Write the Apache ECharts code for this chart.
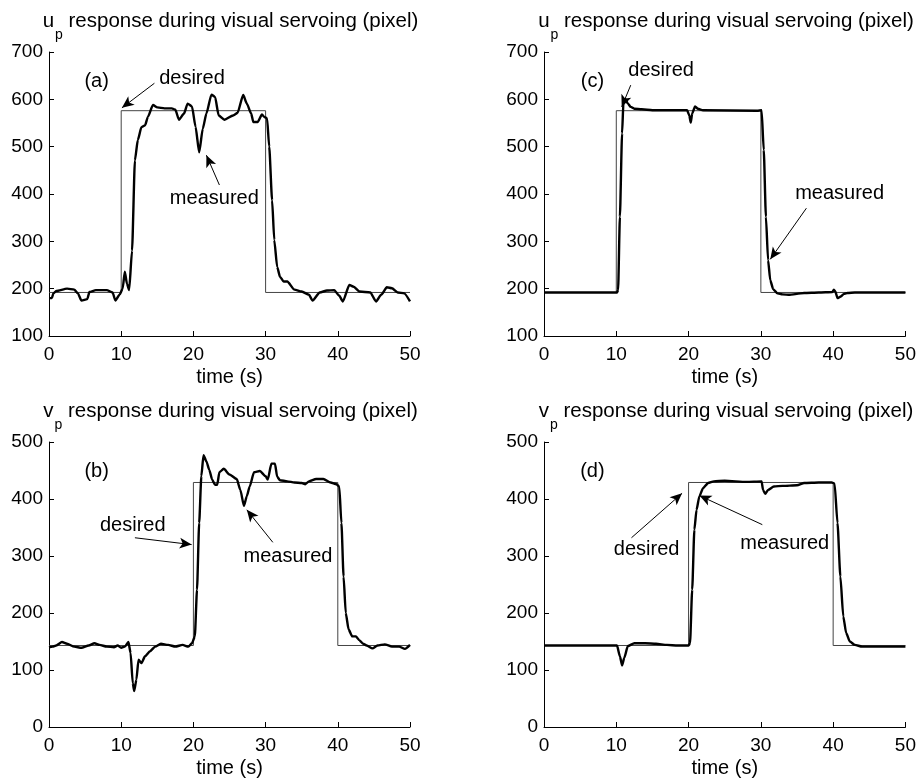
<!DOCTYPE html>
<html>
<head>
<meta charset="utf-8">
<script src="https://cdn.jsdelivr.net/npm/echarts@6/dist/echarts.min.js"></script>
<style>
  html, body { margin: 0; padding: 0; background: #fff; }
  #main { width: 919px; height: 779px; }
</style>
</head>
<body>
<div id="main"></div>
<script>
// (a) u_p, first controller
const tA = [0, 0.4, 0.6, 1, 2.5, 3.5, 4, 4.5, 5.3, 5.6, 6.5, 8, 8.8, 9.2, 9.8, 10.2, 10.5, 10.8, 11.1, 11.5, 11.9, 12.3, 12.8, 13.3, 13.7, 14.4, 15, 16, 17, 17.5, 18, 18.7, 19.2, 19.8, 20.3, 20.8, 21.3, 21.8, 22.5, 23, 23.5, 24.3, 25.5, 26.1, 26.9, 27.4, 28, 28.3, 28.9, 29.5, 29.8, 30.2, 30.5, 30.9, 31.2, 31.6, 32, 32.5, 33, 34, 35, 36, 36.5, 37.5, 38.5, 39.5, 40.2, 40.7, 41.6, 42.2, 43, 44.5, 45.3, 46, 46.8, 47.5, 48.3, 49.2, 50]
const measA = [180, 180, 190, 195, 200, 198, 190, 175, 178, 193, 197, 197, 192, 175, 188, 200, 236, 210, 197, 280, 471, 514, 541, 545, 563, 588, 583, 581, 581, 578, 557, 570, 591, 585, 542, 488, 538, 570, 610, 605, 566, 557, 566, 571, 609, 591, 570, 552, 552, 568, 563, 560, 500, 387, 303, 246, 225, 215, 215, 198, 194, 187, 175, 192, 196, 197, 185, 173, 208, 204, 194, 192, 173, 187, 203, 201, 192, 190, 173]

// (c) u_p, second controller
const tC = [0, 10.1, 10.25, 10.5, 10.8, 11, 11.25, 11.6, 12, 12.5, 13.5, 15, 19.8, 20.1, 20.3, 20.5, 20.9, 21.3, 22, 29.5, 30.1, 30.4, 30.7, 31, 31.3, 31.7, 32.3, 33, 34, 35, 36, 38, 39.9, 40.1, 40.3, 40.6, 41, 41.5, 42, 43, 50]
const measC = [192, 192, 197, 352, 528, 598, 601, 591, 584, 580, 579, 577, 577, 566, 551, 570, 585, 580, 577, 576, 577, 493, 352, 260, 218, 199, 190, 188, 187, 189, 191, 192, 193, 198, 194, 180, 183, 189, 191, 192, 192]

// (b) v_p, first controller
const tB = [0, 0.5, 1, 1.8, 2.5, 3.5, 4.5, 5.5, 6.3, 7, 8, 9, 9.5, 10, 10.5, 11, 11.3, 11.6, 11.8, 12.1, 12.4, 12.8, 13.3, 14, 14.7, 15.5, 16.5, 17.5, 18.5, 19.3, 19.8, 20.2, 20.5, 20.8, 21.1, 21.4, 21.8, 22.2, 22.6, 23, 23.3, 23.6, 24.2, 25, 26, 26.5, 27, 27.4, 27.8, 28.4, 29.2, 30, 30.3, 30.8, 31.3, 31.6, 32, 33, 34, 35, 35.5, 36, 37, 38, 39, 39.8, 40.2, 40.5, 40.8, 41.1, 41.5, 42, 42.5, 43, 43.5, 44, 44.8, 45.5, 46.5, 47.5, 48.5, 49.3, 50]
const measB = [140, 141, 143, 149, 146, 141, 139, 143, 147, 144, 141, 140, 143, 139, 141, 149, 130, 77, 63, 83, 118, 112, 124, 133, 141, 146, 144, 141, 144, 141, 147, 159, 241, 358, 440, 477, 466, 451, 434, 425, 425, 447, 453, 443, 435, 416, 388, 405, 422, 447, 449, 440, 434, 462, 462, 439, 433, 431, 429, 428, 426, 431, 435, 435, 429, 426, 422, 358, 264, 200, 171, 159, 159, 152, 146, 143, 138, 143, 145, 141, 141, 137, 144]

// (d) v_p, second controller
const tD = [0, 10.1, 10.5, 10.8, 11.1, 11.6, 12.5, 14, 15.5, 17, 18.5, 20, 20.2, 20.5, 20.8, 21.1, 21.5, 22, 22.7, 23.5, 25, 28, 30.1, 30.3, 30.6, 31, 31.8, 33, 35, 36, 38, 39.8, 40.2, 40.6, 41, 41.4, 41.8, 42.3, 43, 44, 50]
const measD = [143, 143, 124, 108, 121, 142, 147, 147, 146, 144, 143, 143, 147, 241, 346, 381, 405, 419, 428, 431, 432, 430, 431, 416, 409, 416, 422, 423, 424, 428, 429, 429, 427, 358, 264, 194, 165, 150, 144, 141, 141]

// desired step references
const tU = [0, 10, 10, 30, 30, 50]
const desU = [192, 192, 576, 576, 192, 192]
const tV = [0, 20, 20, 40, 40, 50]
const desV = [143, 143, 429, 429, 143, 143]

const font = '"Liberation Sans", Arial, Helvetica, sans-serif'
const zip = (t, v) => t.map((x, i) => [x, v[i]])

const panels = [
  {
    grid: { left: 49, top: 52, width: 361, height: 284 },
    ymin: 100, ymax: 700, letter: 'u',
    meas: zip(tA, measA), des: zip(tU, desU),
    texts: [['(a)', [6.6, 637]], ['desired', [19.8, 645]], ['measured', [22.9, 391]]],
    arrows: [[[14.6, 634], [10.1, 582]], [[23.6, 419], [21.8, 482]]]
  },
  {
    grid: { left: 544, top: 52, width: 362, height: 284 },
    ymin: 100, ymax: 700, letter: 'u',
    meas: zip(tC, measC), des: zip(tU, desU),
    texts: [['(c)', [6.7, 637]], ['desired', [16.2, 662]], ['measured', [40.9, 402]]],
    arrows: [[[12.0, 630], [10.75, 584]], [[36.3, 370], [31.3, 262]]]
  },
  {
    grid: { left: 49, top: 442, width: 361, height: 285 },
    ymin: 0, ymax: 500, letter: 'v',
    meas: zip(tB, measB), des: zip(tV, desV),
    texts: [['(b)', [6.6, 448]], ['desired', [11.6, 353]], ['measured', [33.1, 299]]],
    arrows: [[[11.9, 332], [19.75, 320]], [[31.0, 324], [27.4, 381]]]
  },
  {
    grid: { left: 544, top: 442, width: 362, height: 285 },
    ymin: 0, ymax: 500, letter: 'v',
    meas: zip(tD, measD), des: zip(tV, desV),
    texts: [['(d)', [6.7, 448]], ['desired', [14.2, 311]], ['measured', [33.3, 322]]],
    arrows: [[[12.1, 332], [19.1, 410]], [[30.2, 355], [21.5, 406]]]
  }
]

const chart = echarts.init(document.getElementById('main'))

const option = {
  animation: false,
  backgroundColor: '#fff',
  textStyle: { fontFamily: font },
  title: panels.map(p => ({
    text: '{m|' + p.letter + '}{s|p}{m| response during visual servoing (pixel)}',
    left: p.grid.left + p.grid.width / 2 - 4,
    top: p.grid.top - 57,
    textAlign: 'center',
    textStyle: {
      fontWeight: 'normal',
      rich: {
        m: { fontSize: 20.5, fontWeight: 'normal', fontFamily: font, color: '#000' },
        s: { fontSize: 14, fontWeight: 'normal', fontFamily: font, color: '#000', padding: [28, 0, 0, 1] }
      }
    }
  })),
  grid: panels.map(p => p.grid),
  xAxis: panels.map((p, i) => ({
    type: 'value', gridIndex: i, min: 0, max: 50, interval: 10,
    name: 'time (s)', nameLocation: 'middle', nameGap: 31,
    nameTextStyle: { fontSize: 20, color: '#000', fontFamily: font },
    axisLine: { lineStyle: { color: '#000', width: 1 } },
    axisTick: { inside: true, length: 5, lineStyle: { color: '#000' } },
    axisLabel: { fontSize: 19, color: '#000', margin: 9, fontFamily: font },
    splitLine: { show: false }
  })),
  yAxis: panels.map((p, i) => ({
    type: 'value', gridIndex: i, min: p.ymin, max: p.ymax, interval: 100,
    axisLine: { show: true, lineStyle: { color: '#000', width: 1 } },
    axisTick: { show: true, inside: true, length: 5, lineStyle: { color: '#000' } },
    axisLabel: { fontSize: 19, color: '#000', margin: 6, fontFamily: font },
    splitLine: { show: false }
  })),
  series: []
}

panels.forEach((p, i) => {
  option.series.push({
    name: 'desired', type: 'line', xAxisIndex: i, yAxisIndex: i,
    data: p.des, showSymbol: false, silent: true,
    lineStyle: { color: '#444', width: 1 },
    markLine: {
      silent: true, symbol: ['none', 'arrow'], symbolSize: [8, 12],
      label: { show: false },
      lineStyle: { color: '#000', width: 1, type: 'solid' },
      data: p.arrows.map(a => [{ coord: a[0] }, { coord: a[1] }])
    },
    markPoint: {
      silent: true, symbol: 'circle', symbolSize: 1,
      itemStyle: { color: 'rgba(0,0,0,0)' },
      label: { show: true, position: 'inside', color: '#000', fontSize: 20, fontFamily: font,
        formatter: q => q.name },
      data: p.texts.map(t => ({ name: t[0], coord: t[1] }))
    }
  })
  option.series.push({
    name: 'measured', type: 'line', xAxisIndex: i, yAxisIndex: i,
    data: p.meas, showSymbol: false, silent: true,
    smooth: 0.2, smoothMonotone: 'x',
    lineStyle: { color: '#000', width: 2.4 }
  })
})

chart.setOption(option)
</script>
</body>
</html>
